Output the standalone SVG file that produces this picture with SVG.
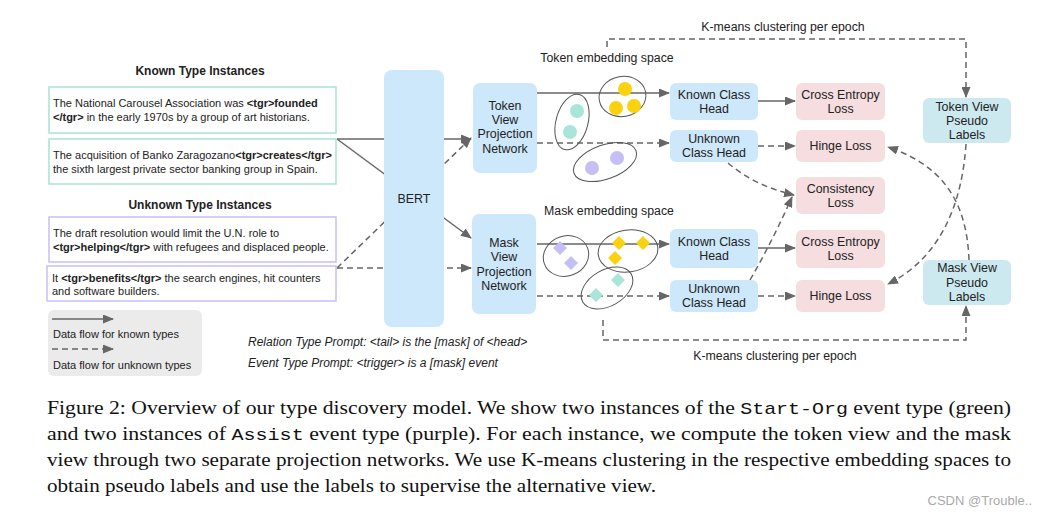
<svg xmlns="http://www.w3.org/2000/svg" width="1048" height="514" viewBox="0 0 1048 514">
<defs>
<marker id="ah" markerUnits="userSpaceOnUse" markerWidth="11" markerHeight="9" refX="10" refY="4.5" orient="auto">
<path d="M0,0 L11,4.5 L0,9 z" fill="#666"/>
</marker>
<style>
.t{font-family:"Liberation Sans",Arial,sans-serif;fill:#222}
.n{font-size:12.4px;text-anchor:middle}
.s{font-size:11px}
.b{font-weight:bold}
.ln{fill:none;stroke:#666;stroke-width:1.5}
.d{stroke-dasharray:6,4}
.blue{fill:#cde8fb}
.pink{fill:#f5dde0}
.cyan{fill:#cde9f0}
.cl{fill:none;stroke:#555;stroke-width:1}
.y{fill:#fbd20f}
.g{fill:#a9e5d8}
.p{fill:#c4c0f5}
.cap{font-family:"Liberation Serif","Times New Roman",serif;font-size:18.5px;fill:#111}
.mono{font-family:"Liberation Mono","Courier New",monospace;font-size:17px}
</style>
</defs>
<rect width="1048" height="514" fill="#fff"/>

<!-- connectors -->
<g id="connectors">
<line class="ln" x1="337" y1="139" x2="471" y2="139" marker-end="url(#ah)"/>
<line class="ln" x1="337" y1="139" x2="471" y2="238" marker-end="url(#ah)"/>
<line class="ln d" x1="337" y1="268" x2="471" y2="268" marker-end="url(#ah)"/>
<line class="ln d" x1="337" y1="268" x2="471" y2="138" marker-end="url(#ah)"/>
<line class="ln" x1="537" y1="93" x2="669" y2="93" marker-end="url(#ah)"/>
<line class="ln d" x1="537" y1="143" x2="669" y2="143" marker-end="url(#ah)"/>
<line class="ln" x1="537" y1="244" x2="669" y2="244" marker-end="url(#ah)"/>
<line class="ln d" x1="537" y1="296" x2="669" y2="296" marker-end="url(#ah)"/>
<line class="ln" x1="758" y1="101" x2="795" y2="101" marker-end="url(#ah)"/>
<line class="ln d" x1="758" y1="146" x2="795" y2="146" marker-end="url(#ah)"/>
<line class="ln" x1="758" y1="248" x2="795" y2="248" marker-end="url(#ah)"/>
<line class="ln d" x1="758" y1="296" x2="795" y2="296" marker-end="url(#ah)"/>
<path class="ln d" d="M728,163 Q755,186 794,195" marker-end="url(#ah)"/>
<path class="ln d" d="M750,280 Q773,240 792,197" marker-end="url(#ah)"/>
<path class="ln d" d="M966,144 C962,205 940,258 888,284" marker-end="url(#ah)"/>
<path class="ln d" d="M969,260 C967,210 950,168 888,147" marker-end="url(#ah)"/>
<path class="ln d" d="M607,47 V39 H966 V97" marker-end="url(#ah)"/>
<path class="ln d" d="M603,320 V340 H966 V306" marker-end="url(#ah)"/>
</g>

<!-- left instances -->
<g id="known-title"><text class="t b" x="200" y="75" font-size="12" text-anchor="middle">Known Type Instances</text></g>
<g id="inst1">
<rect x="49" y="87" width="287" height="46" fill="#fff" stroke="#a8e2d3" stroke-width="1.5"/>
<text class="t s" x="53" y="107">The National Carousel Association was <tspan class="b">&lt;tgr&gt;founded</tspan></text>
<text class="t s" x="53" y="121"><tspan class="b">&lt;/tgr&gt;</tspan> in the early 1970s by a group of art historians.</text>
</g>
<g id="inst2">
<rect x="49" y="139" width="287" height="45" fill="#fff" stroke="#a8e2d3" stroke-width="1.5"/>
<text class="t s" x="53" y="159">The acquisition of Banko Zaragozano<tspan class="b">&lt;tgr&gt;creates&lt;/tgr&gt;</tspan></text>
<text class="t s" x="53" y="173">the sixth largest private sector banking group in Spain.</text>
</g>
<g id="unknown-title"><text class="t b" x="200" y="209" font-size="12" text-anchor="middle">Unknown Type Instances</text></g>
<g id="inst3">
<rect x="49" y="217" width="287" height="45" fill="#fff" stroke="#c6c0f3" stroke-width="1.5"/>
<text class="t s" x="53" y="237">The draft resolution would limit the U.N. role to</text>
<text class="t s" x="53" y="251"><tspan class="b">&lt;tgr&gt;helping&lt;/tgr&gt;</tspan> with refugees and displaced people.</text>
</g>
<g id="inst4">
<rect x="47" y="266" width="289" height="35" fill="#fff" stroke="#c6c0f3" stroke-width="1.5"/>
<text class="t s" x="52" y="282">It <tspan class="b">&lt;tgr&gt;benefits&lt;/tgr&gt;</tspan> the search engines, hit counters</text>
<text class="t s" x="52" y="295">and software builders.</text>
</g>

<!-- BERT -->
<g id="bert">
<rect class="blue" x="384" y="70" width="60" height="257" rx="8"/>
<text class="t n" x="414" y="203">BERT</text>
</g>

<!-- projection networks -->
<g id="token-proj">
<rect class="blue" x="473" y="83" width="64" height="90" rx="7"/>
<text class="t n" x="505" y="110">Token</text>
<text class="t n" x="505" y="124">View</text>
<text class="t n" x="505" y="138">Projection</text>
<text class="t n" x="505" y="153">Network</text>
</g>
<g id="mask-proj">
<rect class="blue" x="472" y="214" width="64" height="100" rx="7"/>
<text class="t n" x="504" y="247">Mask</text>
<text class="t n" x="504" y="261">View</text>
<text class="t n" x="504" y="276">Projection</text>
<text class="t n" x="504" y="290">Network</text>
</g>

<!-- embedding spaces -->
<g id="token-space">
<text class="t" x="607" y="62" font-size="12.3" text-anchor="middle">Token embedding space</text>
<ellipse class="cl" cx="622.5" cy="96.5" rx="23.5" ry="20" transform="rotate(-10 622.5 96.5)"/>
<circle class="y" cx="625" cy="89" r="7"/>
<circle class="y" cx="616" cy="108" r="7"/>
<circle class="y" cx="634" cy="106" r="7"/>
<ellipse class="cl" cx="572" cy="122" rx="16" ry="28.5" transform="rotate(15 572 122)"/>
<circle class="g" cx="577" cy="111" r="7"/>
<circle class="g" cx="570" cy="132" r="7"/>
<ellipse class="cl" cx="605" cy="162" rx="33" ry="17" transform="rotate(-20 605 162)"/>
<circle class="p" cx="592" cy="168" r="7"/>
<circle class="p" cx="617" cy="158" r="7"/>
</g>
<g id="mask-space">
<text class="t" x="609" y="215" font-size="12.3" text-anchor="middle">Mask embedding space</text>
<ellipse class="cl" cx="566" cy="256" rx="23" ry="20" transform="rotate(-20 566 256)"/>
<path class="p" d="M560,241 l7,7 l-7,7 l-7,-7 z M571,256 l7,7 l-7,7 l-7,-7 z"/>
<ellipse class="cl" cx="628" cy="251" rx="30" ry="21" transform="rotate(-8 628 251)"/>
<path class="y" d="M619,236 l7,7 l-7,7 l-7,-7 z M643,236 l7,7 l-7,7 l-7,-7 z M615,251 l7,7 l-7,7 l-7,-7 z"/>
<ellipse class="cl" cx="607" cy="288" rx="28" ry="18" transform="rotate(-30 607 288)"/>
<path class="g" d="M618,273 l7,7 l-7,7 l-7,-7 z M596,288 l7,7 l-7,7 l-7,-7 z"/>
</g>

<!-- heads -->
<g id="known-head-top">
<rect class="blue" x="670" y="83" width="88" height="37" rx="6"/>
<text class="t n" x="714" y="99">Known Class</text>
<text class="t n" x="714" y="113">Head</text>
</g>
<g id="unknown-head-top">
<rect class="blue" x="670" y="130" width="88" height="32" rx="6"/>
<text class="t n" x="714" y="143">Unknown</text>
<text class="t n" x="714" y="157">Class Head</text>
</g>
<g id="known-head-bottom">
<rect class="blue" x="670" y="229" width="88" height="39" rx="6"/>
<text class="t n" x="714" y="246">Known Class</text>
<text class="t n" x="714" y="260">Head</text>
</g>
<g id="unknown-head-bottom">
<rect class="blue" x="670" y="280" width="88" height="32" rx="6"/>
<text class="t n" x="714" y="293">Unknown</text>
<text class="t n" x="714" y="307">Class Head</text>
</g>

<!-- losses -->
<g id="ce-top">
<rect class="pink" x="796" y="83" width="89" height="37" rx="6"/>
<text class="t n" x="840.5" y="99">Cross Entropy</text>
<text class="t n" x="840.5" y="113">Loss</text>
</g>
<g id="hinge-top">
<rect class="pink" x="796" y="130" width="89" height="32" rx="6"/>
<text class="t n" x="840.5" y="150">Hinge Loss</text>
</g>
<g id="consistency">
<rect class="pink" x="796" y="177" width="89" height="37" rx="6"/>
<text class="t n" x="840.5" y="193">Consistency</text>
<text class="t n" x="840.5" y="207">Loss</text>
</g>
<g id="ce-bottom">
<rect class="pink" x="796" y="230" width="89" height="38" rx="6"/>
<text class="t n" x="840.5" y="246">Cross Entropy</text>
<text class="t n" x="840.5" y="260">Loss</text>
</g>
<g id="hinge-bottom">
<rect class="pink" x="796" y="280" width="89" height="32" rx="6"/>
<text class="t n" x="840.5" y="300">Hinge Loss</text>
</g>

<!-- pseudo labels -->
<g id="token-pseudo">
<rect class="cyan" x="923" y="98" width="88" height="45" rx="6"/>
<text class="t n" x="967" y="111">Token View</text>
<text class="t n" x="967" y="125">Pseudo</text>
<text class="t n" x="967" y="139">Labels</text>
</g>
<g id="mask-pseudo">
<rect class="cyan" x="923" y="260" width="88" height="45" rx="6"/>
<text class="t n" x="967" y="272">Mask View</text>
<text class="t n" x="967" y="287">Pseudo</text>
<text class="t n" x="967" y="301">Labels</text>
</g>

<!-- k-means labels -->
<g id="kmeans-labels">
<text class="t" x="783" y="31" font-size="12.3" text-anchor="middle">K-means clustering per epoch</text>
<text class="t" x="775" y="360" font-size="12.3" text-anchor="middle">K-means clustering per epoch</text>
</g>

<!-- legend -->
<g id="legend">
<rect x="48" y="310" width="154" height="66" rx="6" fill="#ebebeb"/>
<line class="ln" x1="52" y1="319" x2="113" y2="319" marker-end="url(#ah)"/>
<text class="t s" x="53" y="338">Data flow for known types</text>
<line class="ln d" x1="52" y1="349" x2="113" y2="349" marker-end="url(#ah)"/>
<text class="t s" x="53" y="369">Data flow for unknown types</text>
</g>

<!-- prompts -->
<g id="prompts">
<text class="t" x="248" y="346" font-size="12" font-style="italic">Relation Type Prompt: &lt;tail&gt; is the [mask] of &lt;head&gt;</text>
<text class="t" x="248" y="367" font-size="12" font-style="italic">Event Type Prompt: &lt;trigger&gt; is a [mask] event</text>
</g>

<!-- caption -->
<g id="caption">
<text class="cap" x="47" y="414" textLength="964" lengthAdjust="spacingAndGlyphs">Figure 2:  Overview of our type discovery model.  We show two instances of the <tspan class="mono">Start-Org</tspan> event type (green)</text>
<text class="cap" x="47" y="440" textLength="964" lengthAdjust="spacingAndGlyphs">and two instances of <tspan class="mono">Assist</tspan> event type (purple).  For each instance, we compute the token view and the mask</text>
<text class="cap" x="47" y="466" textLength="964" lengthAdjust="spacingAndGlyphs">view through two separate projection networks. We use K-means clustering in the respective embedding spaces to</text>
<text class="cap" x="47" y="492" textLength="609" lengthAdjust="spacingAndGlyphs">obtain pseudo labels and use the labels to supervise the alternative view.</text>
</g>
<g id="watermark">
<text x="1032" y="505" font-family="Liberation Sans, Arial, sans-serif" font-size="13" fill="#aaa" text-anchor="end">CSDN @Trouble..</text>
</g>
</svg>
